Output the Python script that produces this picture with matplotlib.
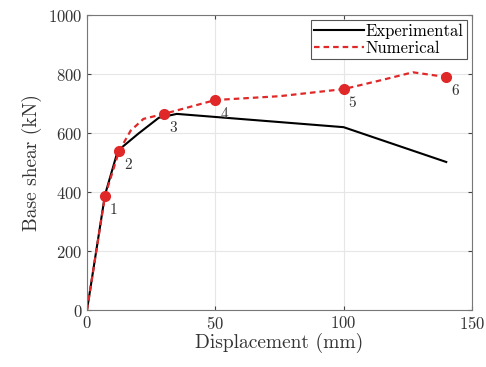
import matplotlib.pyplot as plt
import matplotlib

matplotlib.rcParams['font.family'] = 'serif'
matplotlib.rcParams['font.serif'] = ['cmr10', 'DejaVu Serif']
matplotlib.rcParams['mathtext.fontset'] = 'cm'
matplotlib.rcParams['axes.formatter.use_mathtext'] = True

# experimental curve
exp_disp = [0, 7, 12, 20, 28, 35, 100, 140]
exp_shear = [0, 390, 540, 598, 652, 665, 620, 502]

# numerical curve
num_disp = [0, 7, 12.5, 17, 22, 30, 50, 75, 100, 115, 127, 140]
num_shear = [0, 386, 539, 608, 648, 665, 712, 725, 749, 780, 806, 790]

# marked stages
stage_disp = [7, 12.5, 30, 50, 100, 140]
stage_shear = [386, 539, 665, 712, 749, 790]
stage_labels = ['1', '2', '3', '4', '5', '6']

fig = plt.figure(figsize=(4.86, 3.67), dpi=100)
ax = fig.add_axes([0.179, 0.155, 0.792, 0.804])

ax.plot(exp_disp, exp_shear, color='black', lw=1.5, label='Experimental')
ax.plot(num_disp, num_shear, color='#e02828', lw=1.6, ls='--', dashes=(2.5, 1.8), label='Numerical')
ax.plot(stage_disp, stage_shear, 'o', color='#e02828', ms=7, zorder=5)
for x, y, s in zip(stage_disp, stage_shear, stage_labels):
    ax.text(x + 2, y - 25, s, fontsize=11, ha='left', va='top', color='#333333')

ax.set_xlim(0, 150)
ax.set_ylim(0, 1000)
ax.set_xticks([0, 50, 100, 150])
ax.set_yticks([0, 200, 400, 600, 800, 1000])
ax.tick_params(direction='in', labelsize=12, top=True, right=True, length=3, colors='#444444', labelcolor='#333333')
ax.grid(True, color='#e6e6e6', lw=0.8)
ax.set_axisbelow(True)
for s in ax.spines.values():
    s.set_color('#777777')
ax.set_xlabel('Displacement (mm)', fontsize=14, color='#333333', labelpad=1)
ax.set_ylabel('Base shear (kN)', fontsize=14, color='#333333', labelpad=4)

leg = ax.legend(loc='upper right', fontsize=12, fancybox=False, framealpha=1,
                edgecolor='#555555', handlelength=3.0, handletextpad=0.1,
                borderpad=0.2, labelspacing=0.1, borderaxespad=0.3)
leg.get_frame().set_linewidth(0.8)

fig.savefig('out.png', dpi=100)
